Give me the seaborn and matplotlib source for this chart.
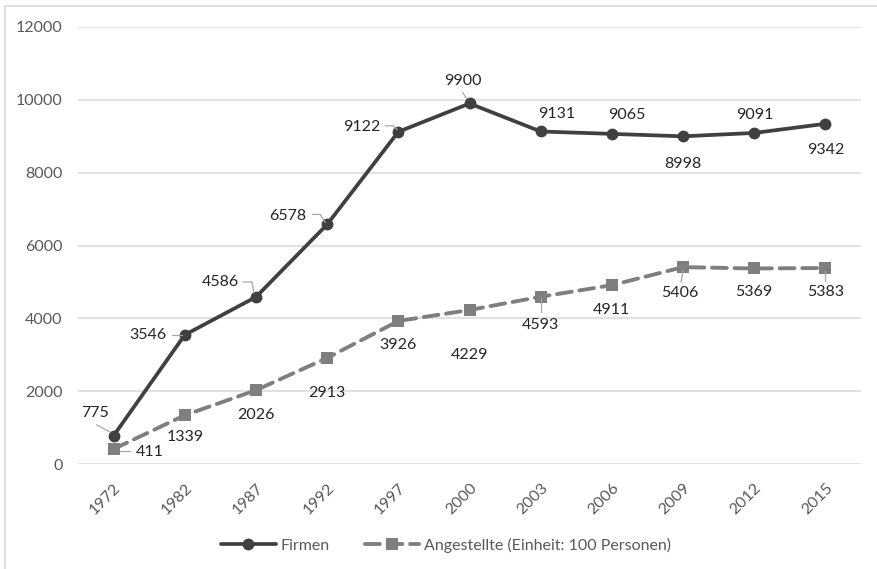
import matplotlib
matplotlib.use("Agg")
import matplotlib.pyplot as plt
from matplotlib.lines import Line2D
from matplotlib.transforms import Affine2D, ScaledTranslation
import numpy as np
import pandas as pd
import seaborn as sns

years = ["1972", "1982", "1987", "1992", "1997", "2000", "2003", "2006", "2009", "2012", "2015"]
firmen = [775, 3546, 4586, 6578, 9122, 9900, 9131, 9065, 8998, 9091, 9342]
angestellte = [411, 1339, 2026, 2913, 3926, 4229, 4593, 4911, 5406, 5369, 5383]
y_ticks = [0, 2000, 4000, 6000, 8000, 10000, 12000]

# label placement in screen pixels relative to the marker (x right, y down)
firmen_label_pos = [(-19, -23), (-37, 0), (-36, -15), (-39, -8), (-37, -5), (-7, -22),
                    (16, -17), (15, -19), (0, 28), (1, -18), (0, 26)]
angest_label_pos = [(36, 3), (0, 22), (0, 25), (0, 35), (0, 24), (0, 45),
                    (0, 28), (0, 25), (-3, 26), (0, 24), (0, 24)]
# leader line polylines (screen pixels relative to the marker)
firmen_leaders = {0: [(-17, -11), (-4, -4)],
                  1: [(-13, 0), (-3, 0)],
                  2: [(-13, -15), (-4, -15), (-2, -4)],
                  3: [(-15, -10), (-7, -10), (-2, -2)],
                  4: [(-13, -6), (-5, -6), (-1, -2)],
                  5: [(-7, -11), (-3, -5)]}
angest_leaders = {0: [(6, 2), (16, 2)],
                  6: [(0, 1), (0, 15)],
                  8: [(0, 3), (-2, 15)],
                  10: [(0, 3), (0, 13)]}

sns.set_theme(style="white")
plt.rcParams["font.family"] = ["Lato", "DejaVu Sans"]

dark = "#404040"
mid = "#7f7f7f"
tick_c = "#595959"
label_c = "#262626"
fs = 11.5

fig = plt.figure(figsize=(8.77, 5.69), dpi=100)
ax = fig.add_axes([78 / 877, 1 - 464 / 569, (861 - 78) / 877, (464 - 27) / 569])

df = pd.DataFrame({"pos": np.arange(len(years)), "Firmen": firmen,
                   "Angestellte": angestellte})

sns.lineplot(data=df, x="pos", y="Firmen", ax=ax, color=dark, lw=2.7,
             marker="o", markersize=8.5, markeredgewidth=0,
             label="Firmen", zorder=4)
sns.lineplot(data=df, x="pos", y="Angestellte", ax=ax, color=mid, lw=2.8,
             marker="s", markersize=8, markeredgewidth=0,
             label="Angestellte (Einheit: 100 Personen)", zorder=3)
ax.lines[1].set_linestyle((0, (3.8, 2.0)))
ax.lines[1].set_dash_capstyle("round")

ax.set_xlim(-0.5, len(years) - 0.5)
ax.set_ylim(0, 12000)
ax.set_yticks(y_ticks)
ax.set_yticklabels([str(v) for v in y_ticks], fontsize=fs, color=tick_c)
ax.set_xticks(np.arange(len(years)))
ax.set_xticklabels(years, rotation=45, ha="right", rotation_mode="anchor",
                   fontsize=fs, color=tick_c)
shift = ScaledTranslation(-3 / 100, 0, fig.dpi_scale_trans)
for lab in ax.get_xticklabels():
    lab.set_transform(lab.get_transform() + shift)
ax.tick_params(axis="y", length=0, pad=11)
ax.tick_params(axis="x", length=0, pad=12)
ax.set_xlabel("")
ax.set_ylabel("")
ax.grid(axis="y", color="#d9d9d9", lw=1.1)
ax.set_axisbelow(True)
for s in ax.spines.values():
    s.set_visible(False)


def put_labels(values, label_pos, leaders):
    for i, (v, (dx, dy)) in enumerate(zip(values, label_pos)):
        ax.annotate(str(v), xy=(i, v), xytext=(dx, -dy),
                    textcoords="offset pixels", ha="center", va="center",
                    fontsize=fs, color=label_c, zorder=6)
        if i in leaders:
            px, py = ax.transData.transform((i, v))
            xs = [p[0] for p in leaders[i]]
            ys = [-p[1] for p in leaders[i]]
            ax.add_line(Line2D(xs, ys, color="#a6a6a6", lw=0.9, zorder=5,
                               transform=Affine2D().translate(px, py)))


put_labels(firmen, firmen_label_pos, firmen_leaders)
put_labels(angestellte, angest_label_pos, angest_leaders)

leg = ax.legend(loc="center", bbox_to_anchor=(446 / 877, 1 - 545 / 569),
                bbox_transform=fig.transFigure, ncol=2, frameon=False,
                fontsize=fs, handlelength=3.4, columnspacing=2.2,
                handletextpad=0.3)
for t in leg.get_texts():
    t.set_color(tick_c)

# outer frame (left and top edges)
fig.add_artist(Line2D([5 / 877, 5 / 877, 1.0], [0.0, 1 - 6 / 569, 1 - 6 / 569],
                      transform=fig.transFigure, color="#d9d9d9", lw=1.2))

fig.savefig("out.png", dpi=100)
